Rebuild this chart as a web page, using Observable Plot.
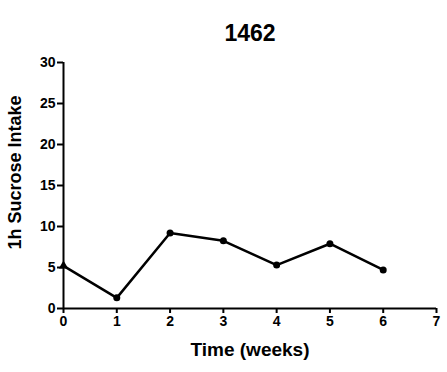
<!DOCTYPE html>
<html>
<head>
<meta charset="utf-8">
<script src="https://cdn.jsdelivr.net/npm/d3@7"></script>
<script src="https://cdn.jsdelivr.net/npm/@observablehq/plot@0.6"></script>
<style>
  body { margin: 0; background: #fff; }
  svg { font-family: "Liberation Sans", Arial, sans-serif; }
</style>
</head>
<body>
<div id="chart"></div>
<script>
const title = "1462";
const xLabel = "Time (weeks)";
const yLabel = "1h Sucrose Intake";
const weeks = [0, 1, 2, 3, 4, 5, 6];
const intake = [5.2, 1.3, 9.2, 8.25, 5.3, 7.9, 4.7];
const xTicks = [0, 1, 2, 3, 4, 5, 6, 7];
const yTicks = [0, 5, 10, 15, 20, 25, 30];

const data = weeks.map((w, i) => ({week: w, value: intake[i]}));

const chart = Plot.plot({
  width: 447,
  height: 372,
  marginTop: 62,
  marginBottom: 64,
  marginLeft: 63,
  marginRight: 11,
  style: {fontFamily: "Liberation Sans, Arial, sans-serif", background: "#fff"},
  x: {domain: [0, 7]},
  y: {domain: [0, 30]},
  marks: [
    Plot.ruleX([0], {y1: 0, y2: 30, stroke: "#000", strokeWidth: 2}),
    Plot.ruleY([0], {x1: 0, x2: 7, stroke: "#000", strokeWidth: 2}),
    Plot.axisY({ticks: yTicks, tickSize: 6, tickPadding: 2, tickFormat: d => d, label: null,
      fontSize: 14, fontWeight: "bold", stroke: "#000", strokeWidth: 2}),
    Plot.axisX({ticks: xTicks, tickSize: 5, tickPadding: 3, tickFormat: d => d, label: null,
      fontSize: 14, fontWeight: "bold", stroke: "#000", strokeWidth: 2}),
    Plot.line(data, {x: "week", y: "value", stroke: "#000", strokeWidth: 2.5}),
    Plot.dot(data, {x: "week", y: "value", fill: "#000", r: 3.5,
      symbol: (d, i) => i === 0 ? "triangle" : "circle"}),
    Plot.text([title], {frameAnchor: "top", dy: -38, text: d => d, fontSize: 23, fontWeight: "bold", fill: "#000"}),
    Plot.text([xLabel], {frameAnchor: "bottom", dy: 47, text: d => d, fontSize: 19, fontWeight: "bold", fill: "#000"}),
    Plot.text([yLabel], {frameAnchor: "left", textAnchor: "middle", dx: -48, dy: -13, rotate: -90, text: d => d, fontSize: 18, fontWeight: "bold", fill: "#000"})
  ]
});
document.getElementById("chart").appendChild(chart);
</script>
</body>
</html>
